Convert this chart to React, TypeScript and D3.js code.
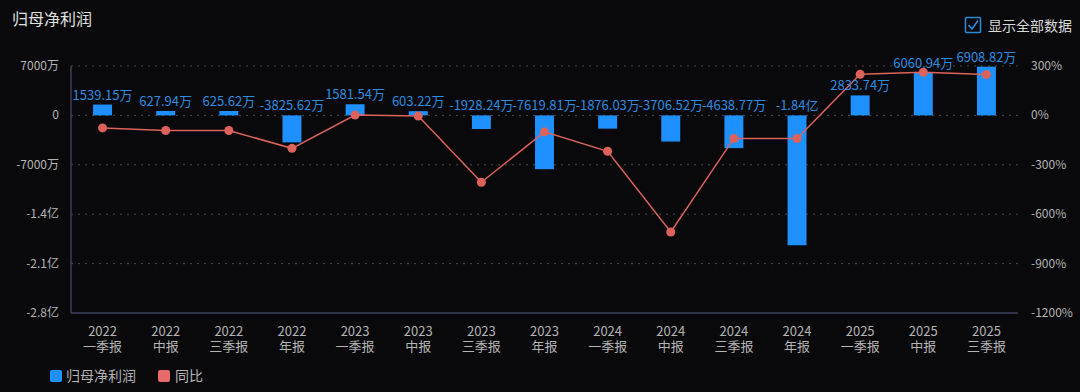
import React from "react";
import * as d3 from "d3";

// 报告期
const years = ["2022", "2022", "2022", "2022", "2023", "2023", "2023", "2023", "2024", "2024", "2024", "2024", "2025", "2025", "2025"];
const periods = ["一季报", "中报", "三季报", "年报", "一季报", "中报", "三季报", "年报", "一季报", "中报", "三季报", "年报", "一季报", "中报", "三季报"];
// 归母净利润 (万元)
const profit = [1539.15, 627.94, 625.62, -3825.62, 1581.54, 603.22, -1928.24, -7619.81, -1876.03, -3706.52, -4638.77, -18400, 2833.74, 6060.94, 6908.82];
const profitLabels = ["1539.15万", "627.94万", "625.62万", "-3825.62万", "1581.54万", "603.22万", "-1928.24万", "-7619.81万", "-1876.03万", "-3706.52万", "-4638.77万", "-1.84亿", "2833.74万", "6060.94万", "6908.82万"];
// 同比 (%)
const yoy = [-76, -92, -92, -200, 2, -4, -406, -100, -218, -708, -140, -140, 250, 262, 248];
const leftTicks = [7000, 0, -7000, -14000, -21000, -28000];
const leftTickLabels = ["7000万", "0", "-7000万", "-1.4亿", "-2.1亿", "-2.8亿"];
const rightTicks = [300, 0, -300, -600, -900, -1200];

const width = 1080;
const height = 392;
const margin = { left: 71, right: 62, top: 66, bottom: 79 };

const App = () => {
  const idx = d3.range(profit.length).map(String);
  const x = d3
    .scaleBand()
    .domain(idx)
    .range([margin.left, width - margin.right]);
  const yL = d3
    .scaleLinear()
    .domain([-28000, 7000])
    .range([height - margin.bottom, margin.top]);
  const yR = d3
    .scaleLinear()
    .domain([-1200, 300])
    .range([height - margin.bottom, margin.top]);

  const barW = x.bandwidth() * 0.3;
  const cx = (i: number) => (x(String(i)) as number) + x.bandwidth() / 2;

  const line = d3
    .line<number>()
    .x((d, i) => cx(i))
    .y(d => yR(d));

  const font = "'Noto Sans CJK SC', 'Noto Sans', sans-serif";
  const axisColor = "#b4b4b4";
  const barColor = "#1e90ff";
  const lineColor = "#dd625c";

  return (
    <div style={{ position: "fixed", left: 0, top: 0 }}>
      <svg width={width} height={height} style={{ display: "block", background: "#09090b", fontFamily: font }}>
        <text x={12} y={25} fill="#e0e0e0" fontSize={16}>
          归母净利润
        </text>

        {/* checkbox */}
        <rect x={965.5} y={17.5} width={15} height={15} fill="none" stroke="#2d8ad6" strokeWidth={1.5} rx={1} />
        <path d="M968.5,25 L972,29 L978,20.5" fill="none" stroke="#2d8ad6" strokeWidth={1.6} />
        <text x={988} y={31} fill="#d8d8d8" fontSize={14}>
          显示全部数据
        </text>

        {/* grid */}
        {leftTicks.slice(0, -1).map(t => (
          <line
            key={t}
            x1={margin.left}
            x2={width - margin.right}
            y1={yL(t)}
            y2={yL(t)}
            stroke="#4a4a4a"
            strokeDasharray="2,5"
          />
        ))}
        <line
          x1={margin.left}
          x2={width - margin.right}
          y1={yL(-28000)}
          y2={yL(-28000)}
          stroke="#3c4058"
          strokeWidth={1.5}
        />
        <line x1={margin.left} x2={margin.left} y1={margin.top} y2={yL(-28000)} stroke="#3c4058" strokeWidth={1.5} />

        {/* left ticks */}
        {leftTicks.map((t, i) => (
          <text key={t} x={59} y={yL(t) + 4} textAnchor="end" fill={axisColor} fontSize={12}>
            {leftTickLabels[i]}
          </text>
        ))}
        {/* right ticks */}
        {rightTicks.map(t => (
          <text key={t} x={1031} y={yR(t) + 4} textAnchor="start" fill={axisColor} fontSize={12}>
            {t + "%"}
          </text>
        ))}

        {/* x labels */}
        {idx.map((d, i) => (
          <text key={d} x={cx(i)} y={336} textAnchor="middle" fill={axisColor} fontSize={13}>
            <tspan x={cx(i)}>{years[i]}</tspan>
            <tspan x={cx(i)} dy={15}>
              {periods[i]}
            </tspan>
          </text>
        ))}

        {/* bars */}
        {profit.map((v, i) => (
          <rect
            key={i}
            x={cx(i) - barW / 2}
            y={Math.min(yL(v), yL(0))}
            width={barW}
            height={Math.abs(yL(v) - yL(0))}
            fill={barColor}
          />
        ))}

        {/* line */}
        <path d={line(yoy) || ""} fill="none" stroke={lineColor} strokeWidth={1.5} />
        {yoy.map((v, i) => (
          <circle key={i} cx={cx(i)} cy={yR(v)} r={4.5} fill={lineColor} />
        ))}

        {/* bar labels */}
        {profit.map((v, i) => (
          <text
            key={i}
            x={cx(i)}
            y={Math.min(yL(v), yL(0)) - 5}
            textAnchor="middle"
            fill="#2c8de0"
            fontSize={13}
          >
            {profitLabels[i]}
          </text>
        ))}

        {/* legend */}
        <rect x={50} y={370} width={12} height={12} rx={2} fill={barColor} />
        <text x={66} y={381} fill={axisColor} fontSize={14}>
          归母净利润
        </text>
        <rect x={158} y={370} width={12} height={12} rx={2} fill="#e86a6a" />
        <text x={175} y={381} fill={axisColor} fontSize={14}>
          同比
        </text>
      </svg>
    </div>
  );
};

export default App;
